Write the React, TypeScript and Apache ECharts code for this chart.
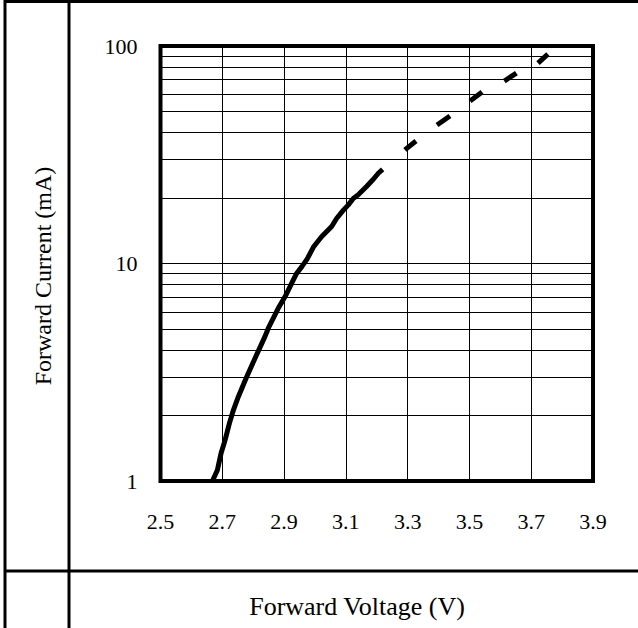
import React, { useEffect, useRef } from "react";
import * as echarts from "echarts";

// Forward voltage (V) and forward current (mA) of the measured (solid) curve
const voltage = [2.668, 2.684, 2.696, 2.709, 2.723, 2.736, 2.752, 2.777, 2.806, 2.838, 2.849, 2.881, 2.903, 2.93, 2.941, 2.957, 2.975, 2.995, 3.022, 3.054, 3.07, 3.092, 3.108, 3.124, 3.14, 3.167, 3.189, 3.205, 3.219];
const current = [1.0, 1.12, 1.34, 1.54, 1.84, 2.12, 2.44, 2.97, 3.67, 4.61, 5.04, 6.22, 7.03, 8.4, 9.02, 9.65, 10.5, 11.9, 13.3, 14.8, 16.1, 17.6, 18.6, 19.9, 20.7, 22.6, 24.4, 26.0, 27.1];

// Dashed continuation: each dash runs from a start point to an end point
const dashStartV = [3.291, 3.395, 3.502, 3.613, 3.722];
const dashStartI = [33.3, 43.3, 55.9, 69.0, 83.5];
const dashEndV = [3.327, 3.437, 3.541, 3.652, 3.754];
const dashEndI = [36.6, 47.7, 61.5, 75.1, 91.8];

// Grid lines
const xGridValues = [2.7, 2.9, 3.1, 3.3, 3.5, 3.7];
const yMinorGridValues = [2, 3, 4, 5, 6, 7, 8, 9, 20, 30, 40, 50, 60, 70, 80, 90];

const xTitle = "Forward Voltage (V)";
const yTitle = "Forward Current (mA)";

const FONT = "Liberation Serif";

export default function App() {
  const ref = useRef<HTMLDivElement>(null);

  useEffect(() => {
    if (!ref.current) return;
    const chart = echarts.init(ref.current, null, { renderer: "svg" });

    const solidData = voltage.map((v, i) => [v, current[i]]);
    const dashSeries = dashStartV.map((v, i) => ({
      type: "line",
      data: [
        [v, dashStartI[i]],
        [dashEndV[i], dashEndI[i]],
      ],
      showSymbol: false,
      z: 10,
      lineStyle: { color: "#000", width: 5, cap: "butt" },
    }));

    const tableLine = (x1: number, y1: number, x2: number, y2: number) => ({
      type: "line",
      shape: { x1, y1, x2, y2 },
      style: { stroke: "#000", lineWidth: 3 },
      z: 100,
    });

    chart.setOption({
      animation: false,
      backgroundColor: "#fff",
      grid: {
        left: 160.5,
        right: 45,
        top: 46,
        bottom: 147,
        show: true,
        borderColor: "#000",
        borderWidth: 4,
        backgroundColor: "transparent",
        containLabel: false,
      },
      xAxis: {
        type: "value",
        min: 2.5,
        max: 3.9,
        interval: 0.1,
        axisLine: { show: false },
        axisTick: { show: false },
        splitLine: { show: false },
        axisLabel: {
          margin: 29,
          fontFamily: FONT,
          fontSize: 22,
          color: "#000",
          formatter: (v: number) =>
            Math.round(v * 10) % 2 === 1 ? v.toFixed(1) : "",
        },
      },
      yAxis: {
        type: "log",
        logBase: 10,
        min: 1,
        max: 100,
        axisLine: { show: false },
        axisTick: { show: false },
        splitLine: { show: true, lineStyle: { color: "#000", width: 1 } },
        axisLabel: {
          margin: 23,
          fontFamily: FONT,
          fontSize: 22,
          color: "#000",
          formatter: (v: number) => String(Math.round(v)),
        },
      },
      series: [
        {
          type: "line",
          data: solidData,
          showSymbol: false,
          z: 10,
          lineStyle: { color: "#000", width: 5 },
          markLine: {
            silent: true,
            symbol: "none",
            z: 1,
            label: { show: false },
            lineStyle: { color: "#000", width: 1, type: "solid" },
            data: [
              ...xGridValues.map((v) => ({ xAxis: v })),
              ...yMinorGridValues.map((v) => ({ yAxis: v })),
            ],
          },
        },
        ...dashSeries,
      ],
      graphic: [
        tableLine(5, 0, 5, 628),
        tableLine(69, 0, 69, 628),
        tableLine(4, 1.5, 638, 1.5),
        tableLine(4, 571, 638, 571),
        {
          type: "text",
          x: 357,
          y: 606,
          z: 100,
          style: {
            text: xTitle,
            fontFamily: FONT,
            fontSize: 26,
            fill: "#000",
            textAlign: "center",
            textVerticalAlign: "middle",
          },
        },
        {
          type: "text",
          x: 42.5,
          y: 276,
          rotation: Math.PI / 2,
          z: 100,
          style: {
            text: yTitle,
            fontFamily: FONT,
            fontSize: 24,
            fill: "#000",
            textAlign: "center",
            textVerticalAlign: "middle",
          },
        },
      ],
    });

    return () => chart.dispose();
  }, []);

  return (
    <div
      ref={ref}
      style={{ position: "fixed", left: 0, top: 0, width: 638, height: 628 }}
    />
  );
}
